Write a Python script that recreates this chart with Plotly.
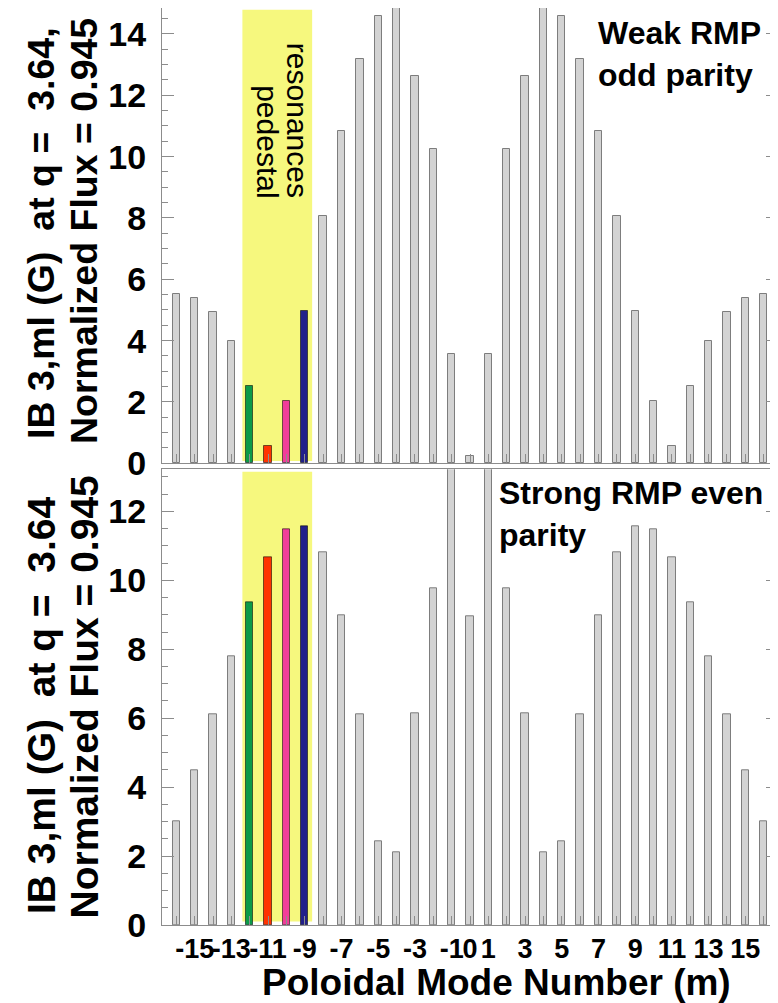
import plotly.graph_objects as go

# ---------------- data ----------------
m_values = list(range(-16, 17))
weak_rmp_odd = [5.51, 5.40, 4.93, 4.00, 2.52, 0.57, 2.03, 4.95, 8.07, 10.84, 13.18,
                14.60, 15.50, 12.62, 10.24, 3.55, 0.25, 3.55, 10.24, 12.62, 15.50, 14.60,
                13.18, 10.84, 8.07, 4.95, 2.03, 0.57, 2.52, 4.00, 4.93, 5.40, 5.51]
strong_rmp_even = [3.00, 4.50, 6.12, 7.80, 9.37, 10.67, 11.47, 11.58, 10.81, 8.99, 6.12,
                   2.42, 2.10, 6.15, 9.77, 14.00, 8.97, 14.00, 9.77, 6.15, 2.10, 2.42,
                   6.12, 8.99, 10.81, 11.58, 11.47, 10.67, 9.37, 7.80, 6.12, 4.50, 3.00]
resonant_modes = [-12, -11, -10, -9]
resonant_colors = ["#0b9a48", "#ff3300", "#f23d99", "#22208a"]
x_tick_vals = list(range(-16, 17))
x_tick_text = [str(v) if (v % 2 != 0 or v == 0) else "" for v in x_tick_vals]
y_tick_vals_top = [0, 2, 4, 6, 8, 10, 12, 14]
y_tick_vals_bot = [0, 2, 4, 6, 8, 10, 12]

# ---------------- layout constants ----------------
# the page body adds an 8px margin, so the figure is drawn 8px smaller
OFF = 8
W, H = 778 - OFF, 1003 - OFF
ML, MR, MT, MB = 162 - OFF, 0, 0, 78
PW, PH = W - ML - MR, H - MT - MB


def px(xp):  # reference page pixel -> paper x
    return (xp - OFF - ML) / PW


def py(yp):  # reference page pixel -> paper y
    return (H - MB - (yp - OFF)) / PH


FONT = "Liberation Sans, Arial, sans-serif"
AXC = "#8c8c8c"

gray_fill = "#d3d3d3"
bar_colors = [resonant_colors[resonant_modes.index(v)] if v in resonant_modes else gray_fill
              for v in m_values]
line_colors = ["rgba(0,0,0,0.55)" if v in resonant_modes else "#7d7d7d" for v in m_values]

fig = go.Figure()
fig.add_trace(go.Bar(x=m_values, y=weak_rmp_odd, width=0.4, xaxis="x", yaxis="y",
                     marker=dict(color=bar_colors, line=dict(color=line_colors, width=1)),
                     showlegend=False))
fig.add_trace(go.Bar(x=m_values, y=strong_rmp_even, width=0.4, xaxis="x2", yaxis="y2",
                     marker=dict(color=bar_colors, line=dict(color=line_colors, width=1)),
                     showlegend=False))

xr = [-16.78, 16.78]
common_x = dict(range=xr, showline=True, linecolor=AXC, linewidth=1, mirror=True,
                ticks="inside", tickvals=x_tick_vals, ticklen=9, tickcolor=AXC, tickwidth=1,
                showgrid=False, zeroline=False, fixedrange=True)
common_y = dict(showline=True, linecolor=AXC, linewidth=1, mirror="ticks",
                ticks="inside", ticklen=12, tickcolor=AXC, tickwidth=1,
                showgrid=False, zeroline=False,
                minor=dict(dtick=0.5, ticks="inside", ticklen=6, tickcolor=AXC, tickwidth=1,
                           showgrid=False),
                tickfont=dict(family=FONT, size=34, color="black", weight="bold"),
                ticklabelstandoff=8)

fig.update_layout(
    width=W, height=H,
    margin=dict(l=ML, r=MR, t=MT, b=MB),
    paper_bgcolor="white", plot_bgcolor="white",
    bargap=0,
    xaxis=dict(common_x, domain=[0, 1], anchor="y", showticklabels=False),
    yaxis=dict(common_y, domain=[py(463.3), 1.0], anchor="x", range=[0, 14.845],
               tickvals=y_tick_vals_top),
    xaxis2=dict(common_x, domain=[0, 1], anchor="y2", ticktext=x_tick_text, tickangle=0,
                tickfont=dict(family=FONT, size=27, color="black", weight="bold"),
                ticklabelstandoff=0),
    yaxis2=dict(common_y, domain=[0, py(469.3)], anchor="x2", range=[0, 13.22],
                tickvals=y_tick_vals_bot),
)

# pedestal resonance shading
fig.add_shape(type="rect", xref="x", yref="y", x0=-12.4, x1=-8.6, y0=0.075, y1=14.79,
              fillcolor="#f6f87e", line_width=0, layer="below")
fig.add_shape(type="rect", xref="x2", yref="y2", x0=-12.4, x1=-8.6, y0=0.1, y1=13.15,
              fillcolor="#f6f87e", line_width=0, layer="below")

ann = []
# rotated label inside shading
ped_font = dict(family=FONT, size=30, color="black")
ann.append(dict(text="pedestal", xref="x", yref="y", x=-11.05, y=(463.3 - 200) / 30.65,
                xanchor="center", yanchor="bottom", textangle=90, showarrow=False,
                font=ped_font))
ann.append(dict(text="resonances", xref="x", yref="y", x=-9.4, y=(463.3 - 200) / 30.65,
                xanchor="center", yanchor="bottom", textangle=90, showarrow=False,
                font=ped_font))
# panel labels
lab_font = dict(family=FONT, size=32, color="black", weight="bold")
ann.append(dict(text="Weak RMP<br>odd parity", xref="paper", yref="paper",
                x=px(596), y=py(13), xanchor="left", yanchor="top", align="left",
                showarrow=False, font=lab_font))
ann.append(dict(text="Strong RMP even<br>parity", xref="paper", yref="paper",
                x=px(497), y=py(473), xanchor="left", yanchor="top", align="left",
                showarrow=False, font=lab_font))
# y-axis titles (two lines each)
ytop_font = dict(family=FONT, size=37.5, color="black", weight="bold")
ybot_font = dict(family=FONT, size=39, color="black", weight="bold")
ann.append(dict(text="IB 3,ml (G)  at q =  3.64,", xref="paper", yref="paper",
                x=px(41), y=py(441), xanchor="center", yanchor="bottom", textangle=-90,
                showarrow=False, font=ytop_font))
ann.append(dict(text="Normalized Flux = 0.945", xref="paper", yref="paper",
                x=px(84), y=py(446), xanchor="center", yanchor="bottom", textangle=-90,
                showarrow=False, font=ytop_font))
ann.append(dict(text="IB 3,ml (G)  at q =  3.64", xref="paper", yref="paper",
                x=px(41), y=py(916), xanchor="center", yanchor="bottom", textangle=-90,
                showarrow=False, font=ybot_font))
ann.append(dict(text="Normalized Flux = 0.945", xref="paper", yref="paper",
                x=px(84), y=py(921), xanchor="center", yanchor="bottom", textangle=-90,
                showarrow=False, font=ybot_font))
# x-axis title
ann.append(dict(text="Poloidal Mode Number (m)", xref="paper", yref="paper",
                x=px(496), y=py(982), xanchor="center", yanchor="middle",
                showarrow=False, font=dict(family=FONT, size=37, color="black", weight="bold")))

fig.update_layout(annotations=ann)
fig.write_html("out.html")
